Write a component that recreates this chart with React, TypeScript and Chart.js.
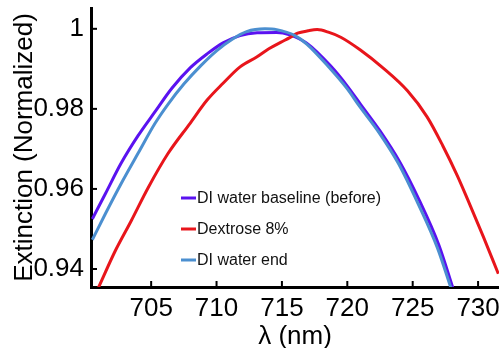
import React, { useEffect, useRef } from 'react';
import { Chart, registerables } from 'chart.js';

Chart.register(...registerables);

const FONT = '"Liberation Sans", Arial, Helvetica, sans-serif';

// ---- data ----
const seriesLabels = ['DI water baseline (before)', 'Dextrose 8%', 'DI water end'];
const seriesColors = ['#5a12f0', '#e8151b', '#4b8fd0'];

const baselineX = [700.5, 701.5, 702.7, 704.0, 705.3, 706.6, 708.0, 709.3, 710.5, 711.8, 713.1, 714.6, 715.6, 716.9, 718.7, 720.0, 721.0, 722.5, 724.0, 725.5, 727.0, 728.1];
const baselineY = [0.9525, 0.9588, 0.9664, 0.9733, 0.9793, 0.9852, 0.9903, 0.9938, 0.9965, 0.9983, 0.9990, 0.9991, 0.9985, 0.9964, 0.9908, 0.9857, 0.9812, 0.9745, 0.9668, 0.9572, 0.9460, 0.9350];

const dextroseX = [700.95, 702.25, 703.47, 704.77, 706.3, 707.98, 709.28, 710.5, 711.8, 713.1, 714.0, 714.9, 715.6, 716.2, 717.0, 717.7, 718.6, 719.5, 721.0, 722.7, 724.6, 726.1, 727.3, 728.4, 729.2, 730.4, 731.55];
const dextroseY = [0.9352, 0.9445, 0.9520, 0.9603, 0.9689, 0.9764, 0.9822, 0.9864, 0.9905, 0.9930, 0.9950, 0.9966, 0.9978, 0.9989, 0.9995, 0.9998, 0.9991, 0.9979, 0.9947, 0.9903, 0.9845, 0.9780, 0.9708, 0.9634, 0.9574, 0.9481, 0.9388];

const endX = [700.5, 701.5, 702.7, 704.0, 705.3, 706.3, 707.5, 708.8, 710.0, 711.2, 712.3, 713.7, 714.6, 716.0, 716.9, 718.6, 720.0, 720.9, 722.4, 723.9, 725.4, 726.9, 727.95];
const endY = [0.9473, 0.9538, 0.9613, 0.9689, 0.9764, 0.9812, 0.9862, 0.9908, 0.9945, 0.9974, 0.9993, 1.0000, 0.9998, 0.9983, 0.9962, 0.9904, 0.9850, 0.9808, 0.9742, 0.9664, 0.9564, 0.9452, 0.9350];

const xTickValues = [705, 710, 715, 720, 725, 730];
const yTickValues = [0.94, 0.96, 0.98, 1];
const xRange = [700.4, 731.6];
const yRange = [0.9355, 1.0052];
const xTitle = 'λ (nm)';
const yTitle = 'Extinction (Normalized)';

const toPoints = (xs: number[], ys: number[]) => xs.map((x, i) => ({ x, y: ys[i] }));

const inwardTicks = {
  id: 'inwardTicks',
  afterDraw(chart: any) {
    const { ctx, chartArea, scales } = chart;
    ctx.save();
    ctx.strokeStyle = '#000';
    ctx.lineWidth = 2;
    scales.x.ticks.forEach((t: any) => {
      const px = scales.x.getPixelForValue(t.value);
      ctx.beginPath();
      ctx.moveTo(px, chartArea.bottom);
      ctx.lineTo(px, chartArea.bottom - 6);
      ctx.stroke();
    });
    scales.y.ticks.forEach((t: any) => {
      const py = scales.y.getPixelForValue(t.value);
      ctx.beginPath();
      ctx.moveTo(chartArea.left, py);
      ctx.lineTo(chartArea.left + 6, py);
      ctx.stroke();
    });
    ctx.restore();
  },
};

const insideLegend = {
  id: 'insideLegend',
  afterDraw(chart: any) {
    const { ctx } = chart;
    const x0 = 181;
    const y0 = 198;
    const gap = 31;
    ctx.save();
    ctx.font = `16px ${FONT}`;
    ctx.textBaseline = 'middle';
    ctx.textAlign = 'left';
    chart.data.datasets.forEach((ds: any, i: number) => {
      const y = y0 + i * gap;
      ctx.strokeStyle = ds.borderColor;
      ctx.lineWidth = 3;
      ctx.beginPath();
      ctx.moveTo(x0, y);
      ctx.lineTo(x0 + 15, y);
      ctx.stroke();
      ctx.fillStyle = '#111';
      ctx.fillText(ds.label, x0 + 16, y + 1);
    });
    ctx.restore();
  },
};

export default function App() {
  const ref = useRef<HTMLCanvasElement>(null);

  useEffect(() => {
    const canvas = ref.current!;
    const common = { borderWidth: 3, pointRadius: 0, cubicInterpolationMode: 'monotone' };
    const chart = new Chart(canvas, {
      type: 'line',
      data: {
        datasets: [
          { ...common, label: seriesLabels[0], data: toPoints(baselineX, baselineY), borderColor: seriesColors[0], backgroundColor: seriesColors[0], order: 2 },
          { ...common, label: seriesLabels[1], data: toPoints(dextroseX, dextroseY), borderColor: seriesColors[1], backgroundColor: seriesColors[1], order: 1 },
          { ...common, label: seriesLabels[2], data: toPoints(endX, endY), borderColor: seriesColors[2], backgroundColor: seriesColors[2], order: 0 },
        ],
      },
      options: {
        animation: false,
        responsive: false,
        layout: { padding: { top: 8, left: 0, right: 0, bottom: 0 } },
        plugins: { legend: { display: false }, tooltip: { enabled: false } },
        scales: {
          x: {
            type: 'linear',
            min: xRange[0],
            max: xRange[1],
            afterBuildTicks: (s: any) => { s.ticks = xTickValues.map((v) => ({ value: v })); },
            afterFit: (s: any) => { s.height = 61; s.paddingLeft = 0; s.paddingRight = 0; },
            grid: { display: false, drawTicks: false },
            border: { display: true, width: 3, color: '#000' },
            ticks: { font: { family: FONT, size: 26 }, color: '#000', padding: 6, maxRotation: 0, autoSkip: false, callback: (v: any) => String(v) },
            title: { display: true, text: xTitle, font: { family: FONT, size: 26 }, color: '#000', padding: { top: 0, bottom: -4 } },
          },
          y: {
            type: 'linear',
            min: yRange[0],
            max: yRange[1],
            afterBuildTicks: (s: any) => { s.ticks = yTickValues.map((v) => ({ value: v })); },
            afterFit: (s: any) => { s.width = 91; s.paddingTop = 0; s.paddingBottom = 0; },
            grid: { display: false, drawTicks: false },
            border: { display: true, width: 3, color: '#000' },
            ticks: { font: { family: FONT, size: 26 }, color: '#000', padding: 7, autoSkip: false, callback: (v: any) => String(v) },
            title: { display: true, text: yTitle, font: { family: FONT, size: 26 }, color: '#000', padding: { top: 9, bottom: 0 } },
          },
        },
      },
      plugins: [inwardTicks, insideLegend],
    } as any);
    return () => chart.destroy();
  }, []);

  return (
    <div style={{ position: 'fixed', left: 0, top: 0, width: 499, height: 348, background: '#fff' }}>
      <canvas ref={ref} width={499} height={348} style={{ width: 499, height: 348, display: 'block' }} />
    </div>
  );
}
